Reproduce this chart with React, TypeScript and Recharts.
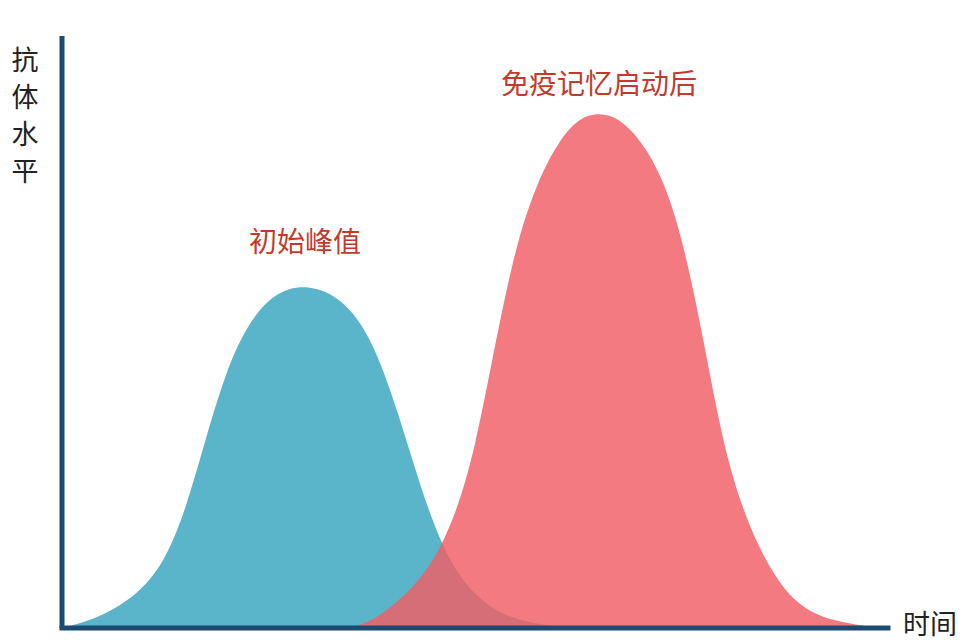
import React from 'react';
import { AreaChart, Area, XAxis, YAxis, ReferenceLine } from 'recharts';

// time points (arbitrary units 0..100)
const times = [0, 2.5, 5, 7.5, 10, 12.5, 15, 17.5, 20, 22.5, 25, 27.5, 30, 32.5, 35, 37.5, 40, 42.5, 45, 47.5, 50, 52.5, 55, 57.5, 60, 62.5, 65, 67.5, 70, 72.5, 75, 77.5, 80, 82.5, 85, 87.5, 90, 92.5, 95, 97.5, 100];

// initial antibody response (blue)
const initialResponse: (number | null)[] = [0, 0.9, 2.2, 4.2, 7.0, 11.5, 20.0, 32.5, 44.0, 51.3, 55.6, 57.5, 57.7, 56.6, 53.8, 48.6, 39.4, 28.0, 17.2, 9.8, 5.6, 2.9, 1.5, 0.7, 0.2, 0, null, null, null, null, null, null, null, null, null, null, null, null, null, null, null];

// response after immune memory activation (red)
const memoryResponse: (number | null)[] = [null, null, null, null, null, null, null, null, null, null, null, null, null, null, 0, 1.2, 3.7, 6.9, 11.3, 18.5, 30.0, 48.5, 65.0, 75.2, 82.0, 86.1, 87.1, 86.1, 82.5, 76.8, 66.6, 50.0, 31.0, 19.5, 11.8, 6.2, 3.2, 1.6, 0.9, 0.2, 0];

const yLabelChars = ['抗', '体', '水', '平'];
const xLabel = '时间';
const firstPeakLabel = '初始峰值';
const memoryPeakLabel = '免疫记忆启动后';

const data = times.map((t, i) => ({ t, initial: initialResponse[i], memory: memoryResponse[i] }));

const FONT = '"Noto Sans CJK SC", "Noto Sans", sans-serif';
const AXIS = '#1b4a72';
const ANNOT = '#c23a2e';

export default function App() {
  return (
    <div style={{ position: 'absolute', left: 0, top: 0, width: 975, height: 643, background: '#fff', fontFamily: FONT }}>
      <AreaChart width={975} height={643} data={data} margin={{ top: 36, right: 87, bottom: 15, left: 62 }}>
        <XAxis type="number" dataKey="t" domain={[0, 100]} hide />
        <YAxis type="number" domain={[0, 100]} hide />
        <Area
          type="basis"
          dataKey="initial"
          stroke="none"
          fill="#5bb5ca"
          fillOpacity={1}
          isAnimationActive={false}
          dot={false}
          activeDot={false}
        />
        <Area
          type="basis"
          dataKey="memory"
          stroke="none"
          fill="#ef5f66"
          fillOpacity={0.83}
          isAnimationActive={false}
          dot={false}
          activeDot={false}
        />
        <ReferenceLine x={0} stroke={AXIS} strokeWidth={5} ifOverflow="visible" />
        <ReferenceLine y={0} stroke={AXIS} strokeWidth={5} strokeLinecap="square" ifOverflow="visible" />
      </AreaChart>
      <div style={{ position: 'absolute', left: 10, top: 40, width: 30, fontSize: 27, lineHeight: '37px', color: '#222', textAlign: 'center' }}>
        {yLabelChars.map((c) => (
          <div key={c}>{c}</div>
        ))}
      </div>
      <div style={{ position: 'absolute', left: 903, top: 608, fontSize: 27, lineHeight: '30px', color: '#222', whiteSpace: 'nowrap' }}>
        {xLabel}
      </div>
      <div style={{ position: 'absolute', left: 305, top: 224, transform: 'translateX(-50%)', fontSize: 28, lineHeight: '32px', color: ANNOT, whiteSpace: 'nowrap' }}>
        {firstPeakLabel}
      </div>
      <div style={{ position: 'absolute', left: 599, top: 66, transform: 'translateX(-50%)', fontSize: 28, lineHeight: '32px', color: ANNOT, whiteSpace: 'nowrap' }}>
        {memoryPeakLabel}
      </div>
    </div>
  );
}
